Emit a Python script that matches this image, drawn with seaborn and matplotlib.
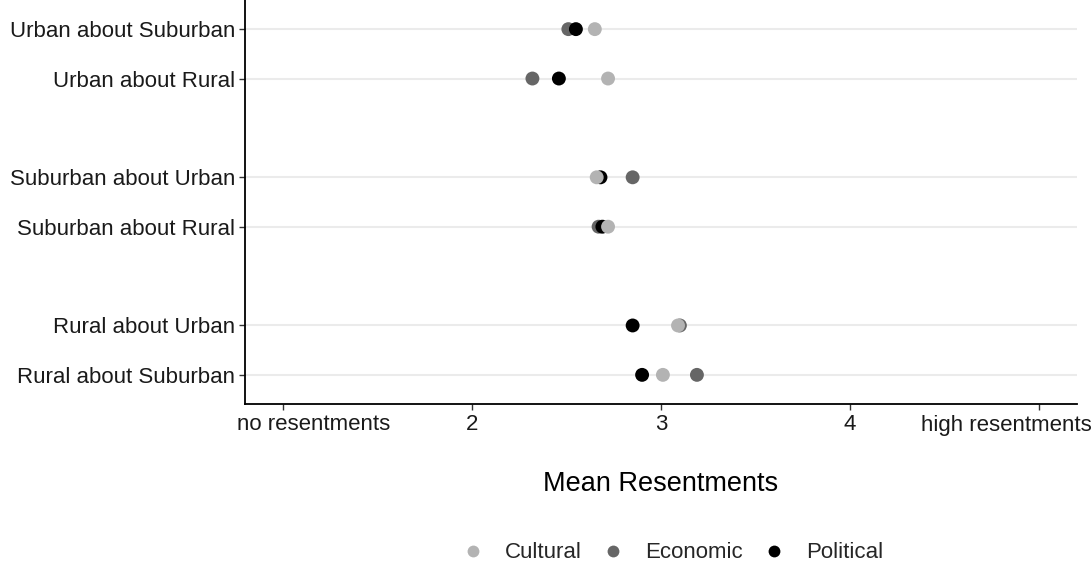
import matplotlib
matplotlib.use("Agg")
import matplotlib.pyplot as plt
import matplotlib.transforms as mtransforms
import seaborn as sns
import pandas as pd

# Groups (top to bottom) and their mean resentment scores per dimension
groups = ["Urban about Suburban", "Urban about Rural",
          "Suburban about Urban", "Suburban about Rural",
          "Rural about Urban", "Rural about Suburban"]
group_pos = [8, 7, 5, 4, 2, 1]

cultural = [2.65, 2.72, 2.66, 2.72, 3.09, 3.01]
economic = [2.51, 2.32, 2.85, 2.67, 3.10, 3.19]
political = [2.55, 2.46, 2.68, 2.69, 2.85, 2.90]

dimensions = ["Cultural", "Economic", "Political"]
colors = ["#b3b3b3", "#666666", "#000000"]

x_ticks = [1, 2, 3, 4, 5]
x_ticklabels = ["no resentments", "2", "3", "4", "high resentments"]

rows = []
for dim, vals in zip(dimensions, [cultural, economic, political]):
    for g, p, v in zip(groups, group_pos, vals):
        rows.append({"group": g, "pos": p, "dimension": dim, "value": v})
df = pd.DataFrame(rows)

sns.set_theme(style="white")
plt.rcParams["font.family"] = ["Liberation Sans", "DejaVu Sans"]

fig = plt.figure(figsize=(10.92, 5.69), dpi=100)
ax = fig.add_axes([245 / 1092, 1 - 404 / 569, (1077 - 245) / 1092, 404 / 569])

# horizontal guide lines at each group
for p in group_pos:
    ax.axhline(p, color="#ebebeb", lw=1.5, zorder=0)

# draw economic first, then political, then cultural on top
draw_order = ["Economic", "Political", "Cultural"]
for z, dim in enumerate(draw_order):
    sub = df[df["dimension"] == dim]
    sns.scatterplot(data=sub, x="value", y="pos", hue="dimension",
                    hue_order=dimensions, palette=colors, s=100,
                    linewidth=0, ax=ax, legend=False, zorder=3 + z)

ax.set_xlim(0.8, 5.2)
ax.set_ylim(0.41, 8.59)
ax.set_yticks(group_pos)
ax.set_yticklabels(groups, fontsize=16, color="#1a1a1a")
ax.set_xticks(x_ticks)
# inner ticks get ordinary labels; the two end labels are set inward below
inner = [lab if 0 < i < len(x_ticklabels) - 1 else ""
         for i, lab in enumerate(x_ticklabels)]
ax.set_xticklabels(inner, fontsize=16, color="#1a1a1a")
ax.set_ylabel("")
ax.set_xlabel("Mean Resentments", fontsize=19.5, labelpad=26, color="black")

tick_lab = ax.get_xaxis_transform()
for x, lab, dx in [(x_ticks[0], x_ticklabels[0], 0.31),
                   (x_ticks[-1], x_ticklabels[-1], -0.33)]:
    tr = tick_lab + mtransforms.ScaledTranslation(dx, -0.105, fig.dpi_scale_trans)
    ax.text(x, 0, lab, transform=tr, ha="center", va="top",
            fontsize=16, color="#1a1a1a", clip_on=False)

for side in ["top", "right"]:
    ax.spines[side].set_visible(False)
for side in ["left", "bottom"]:
    ax.spines[side].set_color("black")
    ax.spines[side].set_linewidth(1.3)
ax.tick_params(axis="both", which="major", length=4, width=1.0,
               color="#333333", left=True, bottom=True, pad=3)

handles = [plt.Line2D([], [], marker="o", ls="", color=c, markersize=8.5,
                      markeredgewidth=0) for c in colors]
fig.legend(handles, dimensions, loc="center", ncol=3,
           bbox_to_anchor=(0.616, 1 - 553 / 569), frameon=False,
           fontsize=16, handlelength=1.0, handletextpad=0.95,
           columnspacing=0.9)

fig.savefig("out.png", dpi=100)
